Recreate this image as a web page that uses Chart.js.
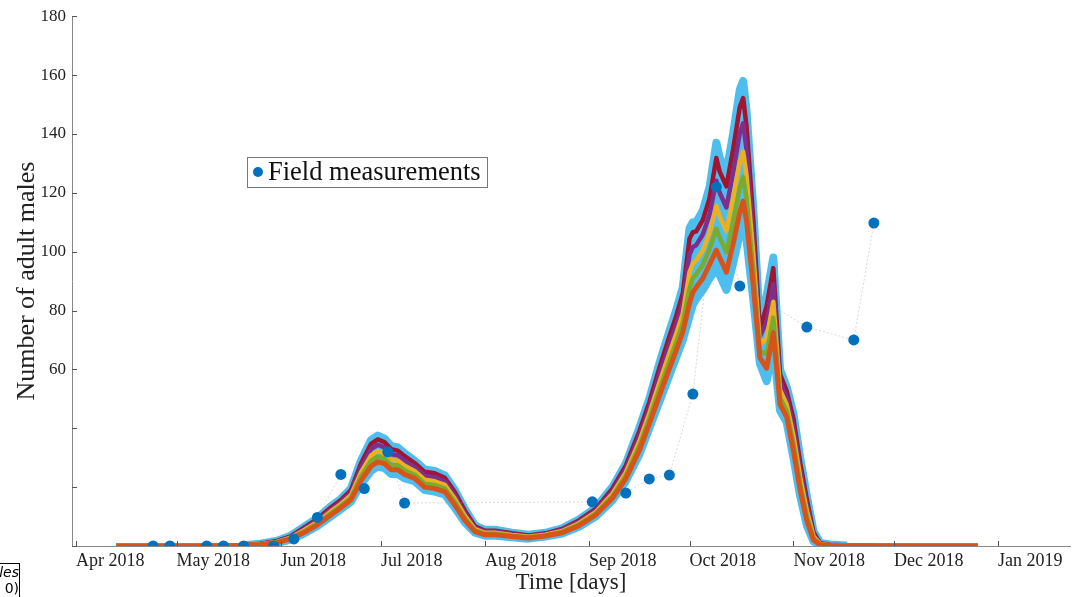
<!DOCTYPE html>
<html>
<head>
<meta charset="utf-8">
<script src="https://cdn.jsdelivr.net/npm/chart.js@4.4.1/dist/chart.umd.min.js"></script>
<style>
    html, body { margin: 0; padding: 0; background: #fff; overflow: hidden; }
    #wrap { position: relative; width: 1086px; height: 597px; }
    #frag { position: absolute; left: -42px; top: 563px; width: 60px; height: 40px; border: 1px solid #000;
            font: italic 14px "DejaVu Sans"; text-align: right; line-height: 16px; color: #000; }
</style>
</head>
<body>
<div id="wrap">
    <canvas id="chart"></canvas>
    <div id="frag">ales<br><span style="font-style:normal">0)</span></div>
</div>
<script>
// --- 1. DATOS (días desde 1 Apr 2018) ---
const dias = [12, 40, 50, 55, 60, 64, 68, 72, 76, 79, 82, 85, 88, 90, 92, 94, 96, 98, 101, 104,
    107, 110, 113, 116, 119, 122, 125, 130, 135, 140, 145, 150, 155, 160, 164, 168, 171, 174, 177, 179,
    181, 183, 184, 185, 187, 189, 191, 192, 194, 196, 198, 199, 200, 202, 204, 206, 208, 210, 212, 214,
    216, 218, 220, 222, 225, 230, 240, 269];

const simCyanTop = [0, 0, 0.3, 0.8, 1.8, 3.5, 6.5, 9.5, 13.5, 16, 19.5, 29, 36, 37.5, 36.5, 34, 33.5, 31.5, 29, 26,
    25.5, 24, 19, 12.5, 7, 5.5, 5.5, 4.5, 3.8, 4.5, 6, 9, 13, 20, 28, 40, 50, 62, 73, 80,
    88, 108, 110, 110, 114, 122, 137, 132, 127, 140, 155, 158, 148, 115, 75, 85, 98, 60, 54, 45,
    30, 17, 5, 1, 0.5, 0.2, 0, 0];
const simRojo = [0, 0, 0.28, 0.75, 1.7, 3.3, 6.2, 9.2, 13.1, 15.6, 19, 28, 34.7, 36.2, 35.3, 32.9, 32.4, 30.5, 28.2, 25.2,
    24.7, 23.2, 18.3, 12, 6.7, 5.2, 5.2, 4.3, 3.6, 4.3, 5.8, 8.7, 12.6, 19.5, 27.3, 38.9, 48.8, 60.4, 71.2, 78,
    85.8, 104.4, 106.6, 106.9, 110.8, 118.3, 131.8, 127.2, 122.2, 134.7, 149.1, 152.2, 142.7, 111.3, 73.4, 81.5, 94.4, 58.3, 52.6, 43.2,
    28.4, 15.8, 4.6, 0.9, 0.45, 0.18, 0, 0];
const simMorado = [0, 0, 0.24, 0.68, 1.56, 3.1, 5.8, 8.7, 12.4, 15, 18.2, 26.6, 32.9, 34.4, 33.5, 31.2, 30.8, 29, 26.9, 23.9,
    23.4, 22, 17.2, 11.1, 6.2, 4.9, 4.9, 4, 3.4, 4.1, 5.5, 8.2, 12.1, 18.6, 26.2, 37.3, 47, 58.1, 68.5, 75.2,
    82.6, 99, 101.6, 102.2, 105.9, 112.7, 124.1, 120, 115, 126.8, 140.3, 143.6, 134.8, 105.7, 71.1, 76.3, 89, 55.8, 50.4, 40.5,
    26.1, 14, 4, 0.8, 0.38, 0.14, 0, 0];
const simAmarillo = [0, 0, 0.2, 0.6, 1.4, 2.85, 5.35, 8.15, 11.75, 14.25, 17.25, 25, 30.75, 32.25, 31.5, 29.25, 29, 27.25, 25.5, 22.5,
    22, 20.75, 16, 10.25, 5.75, 4.5, 4.5, 3.75, 3.15, 3.85, 5.1, 7.75, 11.5, 17.75, 25, 35.5, 45, 55.5, 65.5, 72,
    79, 93, 96, 97, 100.5, 106.5, 115.5, 112, 107, 118, 130.5, 134, 126, 99.5, 68.5, 70.5, 83, 53, 48, 37.5,
    23.5, 12, 3.25, 0.65, 0.3, 0.1, 0, 0];
const simVerde = [0, 0, 0.16, 0.53, 1.26, 2.6, 4.9, 7.7, 11.1, 13.6, 16.4, 23.6, 28.9, 30.4, 29.7, 27.5, 27.4, 25.7, 24.2, 21.2,
    20.7, 19.6, 14.9, 9.4, 5.3, 4.15, 4.15, 3.5, 2.9, 3.6, 4.8, 7.3, 11, 16.9, 23.9, 33.9, 43.2, 53.2, 62.8, 69.1,
    75.8, 87.6, 91, 92.3, 95.6, 100.9, 107.8, 104.8, 99.8, 110.1, 121.7, 125.4, 118.1, 93.9, 66.2, 65.3, 77.6, 50.5, 45.8, 34.8,
    21.2, 10.2, 2.6, 0.5, 0.23, 0.06, 0, 0];
const simNaranja = [0, 0, 0.13, 0.46, 1.12, 2.4, 4.55, 7.2, 10.5, 13, 15.7, 22.2, 27.1, 28.6, 28, 25.9, 25.9, 24.3, 23, 20,
    19.5, 18.5, 13.9, 8.7, 4.9, 3.8, 3.8, 3.2, 2.7, 3.4, 4.5, 6.9, 10.5, 16.2, 22.9, 32.4, 41.5, 51, 60.3, 66.4,
    72.7, 82.5, 86.2, 87.9, 91, 95.7, 100.5, 98, 93, 102.6, 113.4, 117.2, 110.6, 88.7, 64, 60.4, 72.5, 48.1, 43.8, 32.3,
    19, 8.5, 2, 0.4, 0.16, 0.03, 0, 0];
const simCyanBot = [0, 0, 0.1, 0.4, 1, 2.2, 4.2, 6.8, 10, 12.5, 15, 21, 25.5, 27, 26.5, 24.5, 24.5, 23, 22, 19,
    18.5, 17.5, 13, 8, 4.5, 3.5, 3.5, 3, 2.5, 3.2, 4.2, 6.5, 10, 15.5, 22, 31, 40, 49, 58, 64,
    70, 78, 82, 84, 87, 91, 94, 92, 87, 96, 106, 110, 104, 84, 62, 56, 68, 46, 42, 30,
    17, 7, 1.5, 0.3, 0.1, 0, 0, 0];

// mediciones de campo
const diasMedicion = [23, 28, 39, 44, 50, 59, 65, 72, 79, 86, 93, 98, 154, 164, 171, 177, 184, 191, 198, 218, 232, 238];
const valoresMedicion = [0, 0, 0, 0, 0, 0, 2.4, 9.7, 24.3, 19.5, 32, 14.6, 15, 18, 22.8, 24.1, 51.6, 122, 88.3, 74.4, 70, 109.7];

// ejes
const diasMes = [0, 30, 61, 91, 122, 153, 183, 214, 244, 275];
const etiquetasMes = ['Apr 2018', 'May 2018', 'Jun 2018', 'Jul 2018', 'Aug 2018', 'Sep 2018',
    'Oct 2018', 'Nov 2018', 'Dec 2018', 'Jan 2019'];
const ticksY = [0, 20, 40, 60, 80, 100, 120, 140, 160, 180];

const FUENTE = '"Liberation Serif", "DejaVu Serif", serif';

// --- 2. SERIES ---
function puntos(arr) {
    return dias.map((d, i) => ({ x: d, y: arr[i] }));
}

// order: número mayor = se dibuja antes (debajo)
function serie(label, arr, color, orden, extra) {
    return Object.assign({
        label: label,
        data: puntos(arr),
        borderColor: color,
        borderWidth: 4.5,
        pointRadius: 0,
        tension: 0,
        fill: false,
        order: orden,
        borderJoinStyle: 'round'
    }, extra || {});
}

// el borde cian más grueso solo donde la curva no está en cero
const anchoCian = {
    borderWidth: (c) => (c.p0.parsed.y < 0.4 && c.p1.parsed.y < 0.4 ? 4.5 : 8)
};

// --- 3. PLUGINS (ticks hacia dentro + leyenda) ---
const ticksDentro = {
    id: 'ticksDentro',
    afterDraw(chart) {
        const { ctx, chartArea, scales } = chart;
        ctx.save();
        ctx.strokeStyle = '#555';
        ctx.lineWidth = 1;
        scales.x.ticks.forEach(t => {
            const px = Math.round(scales.x.getPixelForValue(t.value)) + 0.5;
            ctx.beginPath();
            ctx.moveTo(px, chartArea.bottom);
            ctx.lineTo(px, chartArea.bottom - 5);
            ctx.stroke();
        });
        scales.y.ticks.forEach(t => {
            const py = Math.round(scales.y.getPixelForValue(t.value)) + 0.5;
            ctx.beginPath();
            ctx.moveTo(chartArea.left, py);
            ctx.lineTo(chartArea.left + 5, py);
            ctx.stroke();
        });
        ctx.restore();
    }
};

const leyenda = {
    id: 'leyenda',
    afterDraw(chart) {
        const { ctx, chartArea } = chart;
        const ds = chart.data.datasets[chart.data.datasets.length - 1];
        const x0 = chartArea.left + 175, y0 = 157, w = 240, h = 30;
        ctx.save();
        ctx.fillStyle = '#fff';
        ctx.fillRect(x0, y0, w, h);
        ctx.strokeStyle = '#777';
        ctx.lineWidth = 1;
        ctx.strokeRect(x0 + 0.5, y0 + 0.5, w, h);
        ctx.fillStyle = ds.pointBackgroundColor;
        ctx.beginPath();
        ctx.arc(x0 + 11, y0 + 15, 5, 0, Math.PI * 2);
        ctx.fill();
        ctx.fillStyle = '#111';
        ctx.font = '26.5px ' + FUENTE;
        ctx.textBaseline = 'middle';
        ctx.fillText(ds.label, x0 + 21, y0 + 16);
        ctx.restore();
    }
};

// --- 4. GRÁFICO ---
function crearGrafico() {
    const ctx = document.getElementById('chart').getContext('2d');
    new Chart(ctx, {
        type: 'line',
        data: {
            datasets: [
                serie('sim1', simCyanTop, '#4DBEEE', 10, { fill: '+1', backgroundColor: '#4DBEEE', segment: anchoCian }),
                serie('sim7', simCyanBot, '#4DBEEE', 9, { segment: anchoCian }),
                serie('sim2', simRojo, '#A2142F', 7),
                serie('sim3', simMorado, '#7E2F8E', 6),
                serie('sim4', simAmarillo, '#EDB120', 5),
                serie('sim5', simVerde, '#77AC30', 4),
                serie('sim6', simNaranja, '#D95319', 3, { borderWidth: 5 }),
                {
                    label: 'Field measurements',
                    data: diasMedicion.map((d, i) => ({ x: d, y: valoresMedicion[i] })),
                    showLine: true,
                    borderColor: 'rgba(170, 140, 130, 0.35)',
                    borderWidth: 1,
                    borderDash: [2, 2],
                    pointRadius: 5.5,
                    pointBackgroundColor: '#0072BD',
                    pointBorderWidth: 0,
                    tension: 0,
                    fill: false,
                    order: 1
                }
            ]
        },
        options: {
            responsive: true,
            maintainAspectRatio: false,
            animation: false,
            layout: { padding: { top: 16, right: 16, left: 0, bottom: 0 } },
            plugins: { legend: { display: false }, tooltip: { enabled: false } },
            scales: {
                x: {
                    type: 'linear',
                    min: -1.2,
                    max: 296.5,
                    afterBuildTicks: (scale) => { scale.ticks = diasMes.map(v => ({ value: v })); },
                    afterFit: (scale) => { scale.height = 51; },
                    grid: { display: true, drawOnChartArea: false, drawTicks: false },
                    border: { display: true, color: '#888', width: 1 },
                    ticks: {
                        autoSkip: false,
                        maxRotation: 0,
                        align: 'start',
                        padding: 4,
                        color: '#222',
                        font: { family: FUENTE, size: 18 },
                        callback: (v) => etiquetasMes[diasMes.indexOf(v)]
                    },
                    title: {
                        display: true,
                        text: 'Time [days]',
                        color: '#222',
                        font: { family: FUENTE, size: 23 },
                        padding: { top: 0, bottom: 0 }
                    }
                },
                y: {
                    min: 0,
                    max: 180,
                    afterBuildTicks: (scale) => { scale.ticks = ticksY.map(v => ({ value: v })); },
                    afterFit: (scale) => { scale.width = 72; },
                    grid: { display: true, drawOnChartArea: false, drawTicks: false },
                    border: { display: true, color: '#888', width: 1 },
                    ticks: {
                        padding: 6,
                        color: '#222',
                        font: { family: FUENTE, size: 17 },
                        callback: (v) => (v >= 60 ? v : '')
                    },
                    title: {
                        display: true,
                        text: 'Number of adult males',
                        color: '#222',
                        font: { family: FUENTE, size: 26 },
                        padding: { top: 12, bottom: 0 }
                    }
                }
            }
        },
        plugins: [ticksDentro, leyenda]
    });
}

document.addEventListener('DOMContentLoaded', () => {
    crearGrafico();
});
</script>
</body>
</html>
